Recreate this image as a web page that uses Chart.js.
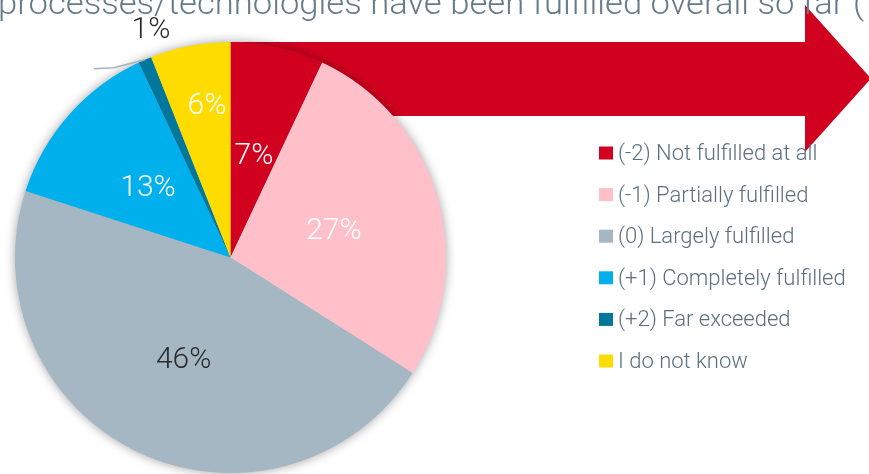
<!DOCTYPE html>
<html>
<head>
<meta charset="utf-8">
<script src="https://cdn.jsdelivr.net/npm/chart.js@4.4.1/dist/chart.umd.min.js"></script>
<style>
  html, body { margin: 0; padding: 0; background: #ffffff; }
  #wrap { width: 869px; height: 474px; position: relative; overflow: hidden; }
</style>
</head>
<body>
<div id="wrap"><canvas id="c" width="869" height="474"></canvas></div>
<script>
// ---- data ----
const categories = [
  '(-2) Not fulfilled at all',
  '(-1) Partially fulfilled',
  '(0) Largely fulfilled',
  '(+1) Completely fulfilled',
  '(+2) Far exceeded',
  'I do not know'
];
const values = [7, 27, 46, 13, 1, 6];
const valueLabels = ['7%', '27%', '46%', '13%', '1%', '6%'];
const sliceColors = ['#d2001f', '#ffc0c9', '#a5b7c2', '#00b0ec', '#00779b', '#ffdc00'];
const labelColors = ['#ffffff', '#ffffff', '#2b2b2b', '#ffffff', '#2b2b2b', '#ffffff'];
const titleText = 'processes/technologies have been fulfilled overall so far (';

const FONT = 'Roboto, "DejaVu Sans", sans-serif';

// arrow behind the pie
const arrowPlugin = {
  id: 'arrow',
  beforeDatasetsDraw(chart) {
    const ctx = chart.ctx;
    const meta = chart.getDatasetMeta(0);
    const arc = meta.data[0];
    const cx = arc.x, cy = arc.y, R = arc.outerRadius;
    ctx.save();
    ctx.fillStyle = '#d2001f';
    ctx.beginPath();
    ctx.moveTo(cx, cy - R);
    ctx.lineTo(805, cy - R);
    ctx.lineTo(805, 5);
    ctx.lineTo(871, 78.5);
    ctx.lineTo(805, 152);
    ctx.lineTo(805, 116);
    ctx.lineTo(cx, 116);
    ctx.closePath();
    ctx.fill();
    // pie shadow
    ctx.shadowColor = 'rgba(0,0,0,0.4)';
    ctx.shadowBlur = 11;
    ctx.fillStyle = '#a5b7c2';
    ctx.beginPath();
    ctx.arc(cx, cy, R - 0.5, 0, Math.PI * 2);
    ctx.fill();
    ctx.restore();
  }
};

const labelPlugin = {
  id: 'sliceLabels',
  afterDatasetsDraw(chart) {
    const ctx = chart.ctx;
    const meta = chart.getDatasetMeta(0);
    const factors = [0.5, 0.5, 0.51, 0.51, null, 0.73];
    ctx.save();
    ctx.textAlign = 'center';
    ctx.textBaseline = 'middle';
    ctx.font = '300 30px ' + FONT;
    meta.data.forEach((arc, i) => {
      const p = arc.getProps(['x', 'y', 'startAngle', 'endAngle', 'outerRadius'], true);
      const mid = (p.startAngle + p.endAngle) / 2;
      ctx.fillStyle = labelColors[i];
      if (factors[i] === null) {
        const ex = p.x + p.outerRadius * Math.cos(mid);
        const ey = p.y + p.outerRadius * Math.sin(mid);
        ctx.strokeStyle = '#a3b3bf';
        ctx.lineWidth = 1.5;
        ctx.beginPath();
        ctx.moveTo(ex, ey);
        ctx.lineTo(ex - 31, ey + 8);
        ctx.lineTo(ex - 51, ey + 9);
        ctx.stroke();
        ctx.fillText(valueLabels[i], ex + 6, ey - 29);
      } else {
        const r = p.outerRadius * factors[i];
        const dx = (i === 5) ? 6 : 0;
        ctx.fillText(valueLabels[i], p.x + r * Math.cos(mid) + dx, p.y + r * Math.sin(mid) + 4);
      }
    });
    ctx.restore();
  }
};

const overlayPlugin = {
  id: 'overlay',
  afterDraw(chart) {
    const ctx = chart.ctx;
    ctx.save();
    // title (cut off at top), condensed to the reference width
    ctx.fillStyle = '#667b8a';
    ctx.textBaseline = 'alphabetic';
    ctx.textAlign = 'left';
    const fs = 34;
    ctx.font = '300 ' + fs + 'px ' + FONT;
    const w = ctx.measureText(titleText).width;
    ctx.save();
    ctx.translate(-2, 14);
    ctx.scale(866 / w, 1);
    ctx.fillText(titleText, 0, 0);
    ctx.restore();
    // legend
    ctx.font = '300 22px ' + FONT;
    ctx.textBaseline = 'middle';
    categories.forEach((c, i) => {
      const y = 153 + i * 41.6;
      ctx.fillStyle = sliceColors[i];
      ctx.fillRect(599, y - 6.5, 14, 13);
      ctx.fillStyle = '#5b6f7d';
      ctx.fillText(c, 618, y + 1.5);
    });
    ctx.restore();
  }
};

new Chart(document.getElementById('c'), {
  type: 'pie',
  data: {
    labels: categories,
    datasets: [{
      data: values,
      backgroundColor: sliceColors,
      borderWidth: 0
    }]
  },
  options: {
    responsive: false,
    animation: false,
    layout: { padding: { top: 42, bottom: 1, left: 15, right: 423 } },
    plugins: {
      legend: { display: false },
      tooltip: { enabled: false },
      title: { display: false }
    }
  },
  plugins: [arrowPlugin, labelPlugin, overlayPlugin]
});
</script>
</body>
</html>
